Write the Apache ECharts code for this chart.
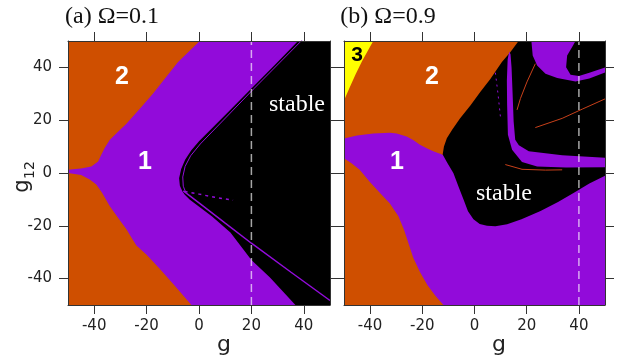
<!DOCTYPE html>
<html>
<head>
<meta charset="utf-8">
<script src="https://cdn.jsdelivr.net/npm/echarts@6/dist/echarts.min.js"></script>
<style>
  html, body { margin: 0; padding: 0; background: #fff; }
  #chart { width: 621px; height: 364px; }
</style>
</head>
<body>
<div id="chart"></div>
<script>
// ---- data (g, g12) ----
const TICKS = [-40, -20, 0, 20, 40];
const G_RANGE = [-50, 50];

// panel (a) Omega = 0.1
const aRegion1 = [[0.3, 50], [-8, 42], [-17.6, 30], [-22, 25], [-27.7, 18.7], [-31, 15.5], [-34.1, 12.5], [-36, 9.5],
    [-37.3, 6.9], [-38.5, 4.4], [-41.1, 2.5], [-45, 1.7], [-50, 1.2], [-50, 0], [-45, -0.8], [-41.7, -2.5],
    [-39.2, -4.4], [-37, -7.5], [-34.1, -12.5], [-30.5, -17.5], [-27.7, -21.3], [-25.8, -24.4], [-23.9, -27.5],
    [-20, -31], [-15, -36.3], [-9, -43], [-2.9, -50], [50, -50], [50, 50]];
const aStable = [[37.8, 50], [29, 41], [20, 32], [10, 22], [0, 12], [-3, 8.5], [-5.3, 5], [-6.8, 1.5], [-7.6, -2],
    [-7.3, -4.8], [-6.3, -7], [-5.5, -8.1], [-3.6, -10], [5, -16.5], [12, -22.5], [20, -33], [27, -39.5],
    [36.8, -50], [50, -50], [50, 50]];
const aLineUpper = [[39.5, 50.5], [21, 32], [0.5, 11], [-3.2, 6.5], [-5.3, 2.5], [-6.2, -1.5], [-6, -5], [-5.2, -7]];
const aLineLower = [[-6, -6.8], [0, -11.3], [10, -19], [20, -26.6], [35, -37.5], [50, -48.3]];
const aDotted = [[-5.5, -7], [0, -8], [6, -9.2], [13, -10.3]];
const aCut = 20;

// panel (b) Omega = 0.9
const bRegion3 = [[-50, 50], [-38.8, 50], [-40.5, 47], [-43, 42.5], [-45.5, 37.5], [-48, 32], [-50, 27.5]];
const bRegion1 = [[-50, 13.1], [-45, 14.2], [-38.8, 15], [-32.4, 15.2], [-29.8, 15], [-26, 13.8], [-23.5, 12.5],
    [-20.9, 10.7], [-18.3, 9.4], [-15.8, 8.2], [-12.2, 6.9], [50, 6.9], [50, -50], [-11.9, -50], [-15, -46.5],
    [-18, -42.5], [-20.9, -37.5], [-23.5, -32], [-25.4, -26.3], [-27, -21.5], [-29.2, -16.3], [-32.5, -11.5],
    [-36.3, -7.5], [-40, -3.5], [-44, 1.25], [-47, 3.6], [-50, 5.6]];
const bStable = [[16.9, 50], [13.7, 45.7], [10.5, 42], [6, 35.5], [2.2, 30.7], [-1.5, 25.7], [-5.5, 20.7],
    [-8.5, 16.5], [-10.6, 13.2], [-11.7, 10], [-12.2, 7], [-10.5, 4], [-8.1, 0], [-6, -5.5], [-4.2, -10],
    [-2.5, -14.5], [-0.4, -17.5], [2, -19.3], [4.8, -20], [8, -20.2], [12.5, -19.4], [18, -17.5], [25.3, -14.4],
    [32, -11], [38.1, -7.5], [44, -4], [50.9, -0.6], [50, 50]];
const bBandA = [[21.8, 50], [22.3, 44.5], [24, 40.7], [27.2, 37.6], [31.7, 36], [38.7, 34.7], [44, 35.8], [50.3, 38.2],
    [50.3, 40.1], [44, 38], [40, 36.7], [36.8, 37.2], [35.1, 40.1], [35.5, 44.5], [37.7, 48.2], [38.7, 50]];
const bBandB = [[13.3, 46], [12.7, 43], [12.4, 35], [12.5, 25.7], [12.8, 14.5], [14.4, 8.8], [18.2, 4.2], [24, 2.5],
    [35, 2.1], [50.5, 2.2], [50.5, 5.7], [33.6, 6.7], [20.8, 8.2], [17, 10.5], [15.6, 12.6], [15, 19.5],
    [14.6, 30], [14.2, 40], [13.8, 45]];
const bThin1 = [[23.3, 41.4], [20.1, 34.5], [17.6, 28.2], [16.3, 23.9]];
const bThin2 = [[23.3, 17.2], [33.6, 20.7], [41.3, 24.2], [50.3, 28.2]];
const bThin3 = [[11.8, 3.2], [18.2, 1.4], [27.2, 1.1], [33.6, 1.2]];
const bDots = [[8, 38], [9, 30], [10, 20.7]];
const bCut = 40;

// ---- styles ----
const ORANGE = '#cf4f00';
const PURPLE = '#920bda';
const YELLOW = '#ffff00';
const AXIS_COL = '#333';
const LABEL_COL = '#222';

function polygon(points, color, idx) {
    return {
        type: 'custom', xAxisIndex: idx, yAxisIndex: idx, clip: true, silent: true,
        data: points,
        renderItem: (params, api) => {
            if (params.dataIndex !== 0) return;
            return {
                type: 'polygon',
                shape: { points: points.map(p => api.coord(p)) },
                style: { fill: color }
            };
        }
    };
}

function line(points, color, width, idx, dash) {
    return {
        type: 'line', xAxisIndex: idx, yAxisIndex: idx, silent: true,
        data: points, symbol: 'none', clip: true,
        lineStyle: { color, width, type: dash || 'solid' }
    };
}

function cutLine(g, idx) {
    return line([[g, G_RANGE[0]], [g, G_RANGE[1]]], 'rgba(255,255,255,0.65)', 1.5, idx, [8, 5]);
}

function axis(gridIndex, position, showLabel) {
    return {
        type: 'value', gridIndex, position,
        min: G_RANGE[0], max: G_RANGE[1], z: 10,
        axisLine: { show: true, onZero: false, lineStyle: { color: AXIS_COL, width: 1 } },
        axisTick: { show: true, length: 9, customValues: TICKS, lineStyle: { color: AXIS_COL } },
        axisLabel: {
            show: showLabel, customValues: TICKS, color: LABEL_COL,
            fontFamily: 'DejaVu Sans', fontSize: 15,
            margin: (position === 'bottom') ? 14 : 16
        },
        splitLine: { show: false }
    };
}

function txt(text, x, y, size, color, family, weight) {
    return {
        type: 'text', x, y, z: 100,
        style: {
            text, fill: color, font: `${weight || 'normal'} ${size}px ${family}`,
            align: 'center', verticalAlign: 'middle'
        }
    };
}

const chart = echarts.init(document.getElementById('chart'), null, { renderer: 'canvas' });

const option = {
    animation: false,
    backgroundColor: '#fff',
    grid: [
        { left: 68, top: 41, width: 262, height: 264, show: true, backgroundColor: ORANGE, borderWidth: 0 },
        { left: 344, top: 41, width: 261, height: 264, show: true, backgroundColor: ORANGE, borderWidth: 0 }
    ],
    xAxis: [
        axis(0, 'bottom', true), axis(0, 'top', false),
        axis(1, 'bottom', true), axis(1, 'top', false)
    ],
    yAxis: [
        axis(0, 'left', true), axis(0, 'right', false),
        axis(1, 'left', false), axis(1, 'right', false)
    ],
    series: [
        polygon(aRegion1, PURPLE, 0),
        polygon(aStable, '#000', 0),
        line(aLineUpper, PURPLE, 1, 0),
        line(aLineLower, PURPLE, 1.5, 0),
        line(aDotted, PURPLE, 1.5, 0, [3, 4]),
        cutLine(aCut, 0),

        polygon(bRegion3, YELLOW, 2),
        polygon(bRegion1, PURPLE, 2),
        polygon(bStable, '#000', 2),
        polygon(bBandA, PURPLE, 2),
        polygon(bBandB, PURPLE, 2),
        line(bThin1, '#c8401a', 1, 2),
        line(bThin2, '#c8401a', 1, 2),
        line(bThin3, '#c8401a', 1, 2),
        line(bDots, PURPLE, 1, 2, [2, 4]),
        cutLine(bCut, 2)
    ],
    graphic: [
        txt('(a) Ω=0.1', 112, 17, 24, '#111', '"Liberation Serif", serif'),
        txt('(b) Ω=0.9', 388, 17, 24, '#111', '"Liberation Serif", serif'),
        txt('2', 122, 77, 25, '#fff', '"Liberation Sans", Arial', 'bold'),
        txt('1', 145, 162, 25, '#fff', '"Liberation Sans", Arial', 'bold'),
        txt('stable', 297, 105, 24, '#fff', '"Liberation Serif", serif'),
        txt('3', 357, 55, 21, '#000', '"Liberation Sans", Arial', 'bold'),
        txt('2', 432, 77, 25, '#fff', '"Liberation Sans", Arial', 'bold'),
        txt('1', 397, 162, 25, '#fff', '"Liberation Sans", Arial', 'bold'),
        txt('stable', 504, 194, 24, '#fff', '"Liberation Serif", serif'),
        txt('g', 224, 345, 22, LABEL_COL, '"DejaVu Sans"'),
        txt('g', 499, 345, 22, LABEL_COL, '"DejaVu Sans"'),
        Object.assign(txt('g', 23, 186, 21, LABEL_COL, '"DejaVu Sans"'), { rotation: Math.PI / 2 }),
        Object.assign(txt('12', 30, 170, 14, LABEL_COL, '"DejaVu Sans"'), { rotation: Math.PI / 2 })
    ]
};

chart.setOption(option);
</script>
</body>
</html>
